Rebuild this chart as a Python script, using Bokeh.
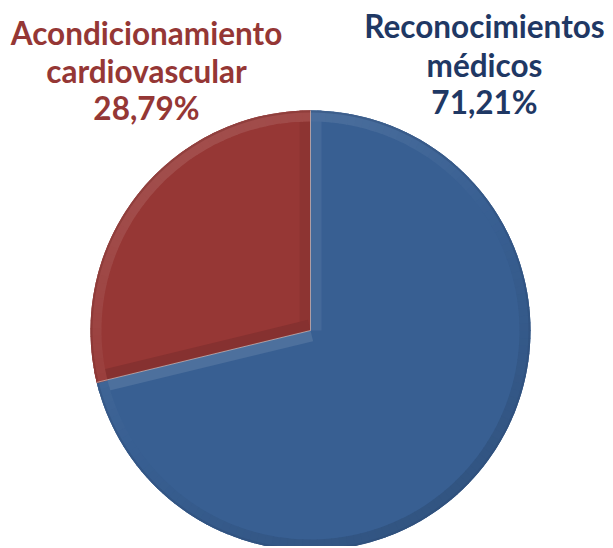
import numpy as np
from bokeh.plotting import figure
from bokeh.models import Range1d
from bokeh.core.properties import value
from bokeh.embed import file_html
from bokeh.resources import INLINE

# ---- data ----
categories = ["Reconocimientos médicos", "Acondicionamiento cardiovascular"]
label_lines = [["Reconocimientos", "médicos", "71,21%"],
               ["Acondicionamiento", "cardiovascular", "28,79%"]]
percent = [71.21, 28.79]
slice_colors = ["#385F92", "#963735"]
text_colors = ["#1F3864", "#953735"]

W, H = 613, 546
p = figure(width=W, height=H, output_backend="svg", toolbar_location=None,
           x_range=Range1d(0, W), y_range=Range1d(0, H), min_border=0)
p.axis.visible = False
p.grid.visible = False
p.outline_line_color = None
p.background_fill_color = "white"

cx, cy, R = 310, H - 330, 220
bevel = 11
light = np.array([-0.55, 0.83])
light = light / np.linalg.norm(light)


def shade(hexc, f):
    r, g, b = int(hexc[1:3], 16), int(hexc[3:5], 16), int(hexc[5:7], 16)
    if f >= 0:
        r, g, b = [c + (255 - c) * f for c in (r, g, b)]
    else:
        r, g, b = [c * (1 + f) for c in (r, g, b)]
    return "#%02x%02x%02x" % tuple(int(max(0, min(255, round(c)))) for c in (r, g, b))


# clockwise from 12 o'clock
frac = np.array(percent) / sum(percent)
ends = np.pi / 2 - 2 * np.pi * np.cumsum(frac)
starts = np.concatenate([[np.pi / 2], ends[:-1]])
w_start = ends
w_end = starts

p.wedge(x=cx, y=cy, radius=R, start_angle=w_start, end_angle=w_end,
        fill_color=slice_colors, line_color=None)

k = 0.11
for i in range(len(percent)):
    base = slice_colors[i]
    a0, a1 = w_start[i], w_end[i]
    for edge_ang, inward_sign in ((a0, 1), (a1, -1)):
        u = np.array([np.cos(edge_ang), np.sin(edge_ang)])
        n_in = inward_sign * np.array([-u[1], u[0]])
        n_out = -n_in
        f = k * float(np.dot(n_out, light))
        c = np.array([cx, cy])
        pts = [c, c + R * u, c + R * u + bevel * n_in, c + bevel * n_in]
        p.patch([q[0] for q in pts], [q[1] for q in pts],
                fill_color=shade(base, f), line_color=None)
    nseg = max(8, int((a1 - a0) / np.radians(2)))
    angs = np.linspace(a0, a1, nseg + 1)
    ss, ee, cols = [], [], []
    for j in range(nseg):
        m = 0.5 * (angs[j] + angs[j + 1])
        f = k * float(np.dot([np.cos(m), np.sin(m)], light))
        ss.append(angs[j])
        ee.append(angs[j + 1] + 0.004)
        cols.append(shade(base, f))
    p.annular_wedge(x=cx, y=cy, inner_radius=R - bevel, outer_radius=R,
                    start_angle=ss, end_angle=ee, fill_color=cols, line_color=None)
    p.annular_wedge(x=cx, y=cy, inner_radius=R - 2, outer_radius=R,
                    start_angle=a0, end_angle=a1, fill_color=shade(base, -0.2),
                    line_color=None, fill_alpha=0.4)

for a in starts:
    p.line([cx, cx + R * np.cos(a)], [cy, cy + R * np.sin(a)],
           line_color="#d0d0d0", line_width=1, line_alpha=0.6)

# labels (screen baselines)
label_x = [484, 146]
label_base = [[35, 74, 111], [42, 80, 117]]
text_shift = -10
for i in range(len(categories)):
    lines = label_lines[i]
    ys = [H - b - text_shift for b in label_base[i]]
    p.text(x=[label_x[i]] * len(lines), y=ys, text=lines,
           text_font=value("Lato"), text_font_style="bold", text_font_size="31.5px",
           text_color=text_colors[i], text_align="center", text_baseline="alphabetic")

open("out.html", "w").write(file_html(p, INLINE))
